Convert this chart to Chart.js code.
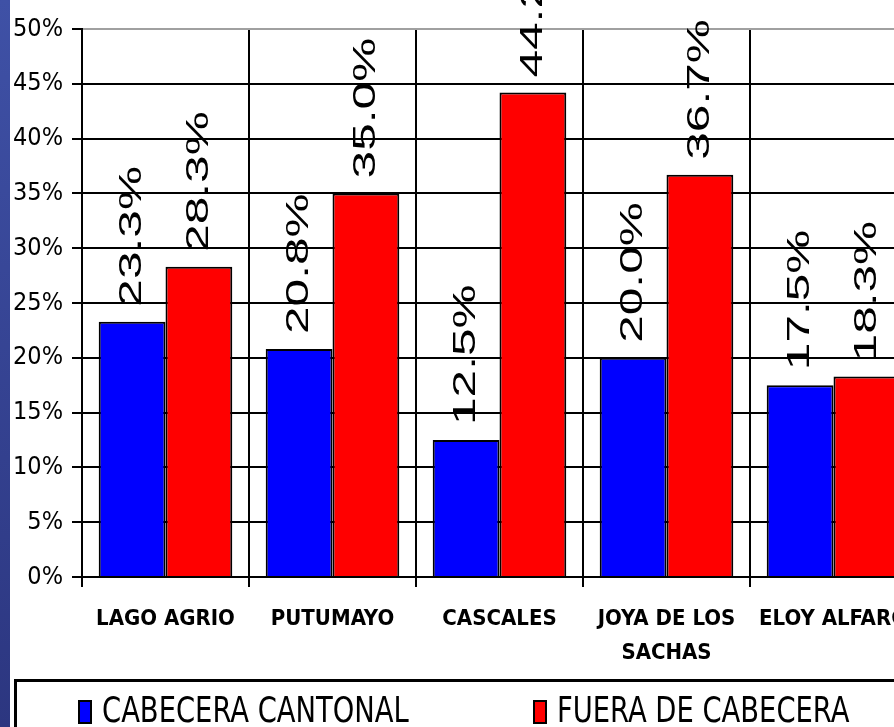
<!DOCTYPE html>
<html>
<head>
<meta charset="utf-8">
<script src="https://cdn.jsdelivr.net/npm/chart.js@4.4.1/dist/chart.umd.min.js"></script>
<style>
  html, body { margin: 0; padding: 0; background: #fff; overflow: hidden; width: 894px; height: 727px; }
  #wrap { position: absolute; left: 0; top: 0; width: 932px; height: 680px; }
  #strip { position: absolute; left: 0; top: 0; width: 10px; height: 727px; z-index: 2;
           background: linear-gradient(#3f51a6, #2c3680); }
  #legend { position: absolute; left: 14px; top: 679px; width: 1000px; height: 80px;
            border: 3px solid #000; box-sizing: border-box; display: flex; align-items: flex-start;
            padding-left: 61px; padding-top: 8px;
            font-family: "DejaVu Sans Condensed", sans-serif; font-size: 35px; color: #000; }
  .item { display: flex; align-items: center; white-space: nowrap; }
  .item:first-child { width: 455px; }
  .swatch { width: 14px; height: 24px; border: 2px solid #000; box-sizing: border-box; margin-right: 10px; margin-top: 4px; }
  .txt { display: inline-block; transform: scaleX(0.87); transform-origin: 0 50%; }
</style>
</head>
<body>
<div id="strip"></div>
<div id="wrap"><canvas id="chart" width="932" height="680"></canvas></div>
<div id="legend"></div>
<script>
const categories = ["LAGO AGRIO", "PUTUMAYO", "CASCALES", ["JOYA DE LOS", "SACHAS"], "ELOY ALFARO"];
const cabeceraCantonal = [23.3, 20.8, 12.5, 20.0, 17.5];
const fueraDeCabecera = [28.3, 35.0, 44.2, 36.7, 18.3];
const seriesNames = ["CABECERA CANTONAL", "FUERA DE CABECERA"];
const seriesColors = ["#0000ff", "#ff0000"];
const yMax = 50;
const yStep = 5;

// value labels written vertically above each bar
const barLabels = {
  id: "barLabels",
  afterDatasetsDraw(chart) {
    const ctx = chart.ctx;
    ctx.save();
    ctx.fillStyle = "#000";
    ctx.font = '32px "Liberation Sans", Arial, sans-serif';
    ctx.textAlign = "left";
    ctx.textBaseline = "middle";
    chart.data.datasets.forEach((ds, i) => {
      chart.getDatasetMeta(i).data.forEach((bar, j) => {
        ctx.save();
        ctx.translate(bar.x, bar.y - 15);
        ctx.rotate(-Math.PI / 2);
        ctx.scale(1.55, 1);
        ctx.fillText(ds.data[j].toFixed(1) + "%", 0, 0);
        ctx.restore();
      });
    });
    ctx.restore();
  }
};

const chart = new Chart(document.getElementById("chart"), {
  type: "bar",
  data: {
    labels: categories,
    datasets: [
      { label: seriesNames[0], data: cabeceraCantonal, backgroundColor: seriesColors[0],
        borderColor: "#000", borderWidth: 2, borderSkipped: "bottom" },
      { label: seriesNames[1], data: fueraDeCabecera, backgroundColor: seriesColors[1],
        borderColor: "#000", borderWidth: 2, borderSkipped: "bottom" }
    ]
  },
  options: {
    responsive: false,
    animation: false,
    layout: { padding: { top: 29, right: 15, left: 0, bottom: 0 } },
    datasets: {
      bar: { categoryPercentage: 0.8, barPercentage: 1.0 }
    },
    plugins: {
      legend: { display: false },
      tooltip: { enabled: false }
    },
    scales: {
      x: {
        grid: { color: "#000", lineWidth: 2, tickLength: 10, tickColor: "#000", offset: true },
        border: { color: "#000", width: 2 },
        ticks: {
          color: "#000",
          autoSkip: false,
          maxRotation: 0,
          padding: 15,
          font: { family: '"DejaVu Sans Condensed", sans-serif', size: 22, weight: "bold", lineHeight: 1.55 }
        },
        afterFit(scale) { scale.height = 103; }
      },
      y: {
        min: 0,
        max: yMax,
        grid: {
          color: (c) => (c.tick && c.tick.value === yMax ? "#a0a0a0" : "#000"),
          lineWidth: 2,
          tickLength: 10,
          tickColor: "#000"
        },
        border: { color: "#000", width: 2 },
        ticks: {
          stepSize: yStep,
          color: "#000",
          padding: 9,
          font: { family: '"DejaVu Sans Condensed", sans-serif', size: 25 },
          callback: (v) => v + "%"
        },
        afterFit(scale) { scale.width = 82; }
      }
    }
  },
  plugins: [barLabels]
});

// legend as html, built from the chart's datasets
const legendEl = document.getElementById("legend");
chart.data.datasets.forEach((ds) => {
  const item = document.createElement("div");
  item.className = "item";
  const sw = document.createElement("span");
  sw.className = "swatch";
  sw.style.background = ds.backgroundColor;
  const txt = document.createElement("span");
  txt.className = "txt";
  txt.textContent = ds.label;
  item.appendChild(sw);
  item.appendChild(txt);
  legendEl.appendChild(item);
});
</script>
</body>
</html>
